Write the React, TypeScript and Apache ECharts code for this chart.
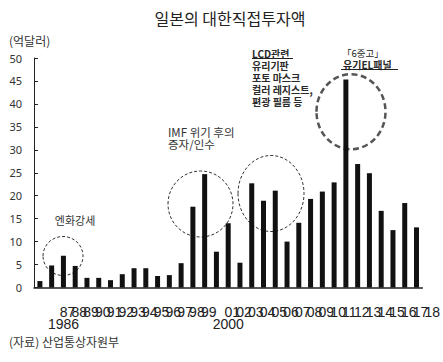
import React, { useEffect, useRef } from "react";
import * as echarts from "echarts";

const years: string[] = [
  "1986", "1987", "1988", "1989", "1990", "1991", "1992", "1993", "1994", "1995", "1996",
  "1997", "1998", "1999", "2000", "2001", "2002", "2003", "2004", "2005", "2006", "2007",
  "2008", "2009", "2010", "2011", "2012", "2013", "2014", "2015", "2016", "2017", "2018",
];
const investment: number[] = [
  1.4, 4.8, 6.9, 4.7, 2.1, 2.1, 1.6, 2.9, 4.2, 4.2, 2.5,
  2.7, 5.3, 17.6, 24.7, 7.8, 14.0, 5.4, 22.7, 18.9, 21.1, 10.0,
  14.1, 19.3, 20.9, 22.9, 45.3, 26.9, 24.9, 16.7, 12.5, 18.4, 13.1,
];
const fullYearLabels: string[] = ["1986", "2000"];
const yMin = 0;
const yMax = 50;
const yStep = 5;

const titleText = "일본의 대한직접투자액";
const unitText = "(억달러)";
const sourceText = "(자료) 산업통상자원부";
const yenNote = "엔화강세";
const imfNote = ["IMF 위기 후의", "증자/인수"];
const lcdNote = ["LCD관련", "유리기판", "포토 마스크", "컬러 레지스트,", "편광 필름 등"];
const oledNote = ["「6중고」", "유기EL패널"];

const KR = "'Noto Sans CJK KR', 'Noto Sans', sans-serif";

function txt(text: string, x: number, y: number, size: number, opts: any = {}) {
  return {
    type: "text",
    x,
    y,
    silent: true,
    style: {
      text,
      fontSize: size,
      fontFamily: KR,
      fontWeight: opts.weight || "normal",
      fill: opts.color || "#222",
      align: opts.align || "left",
      textAlign: opts.align || "left",
      verticalAlign: "middle",
      textVerticalAlign: "middle",
    },
  };
}

function ring(cx: number, cy: number, rx: number, ry: number, dash: number[], width: number, color: string) {
  return {
    type: "ellipse",
    silent: true,
    shape: { cx, cy, rx, ry },
    style: { fill: "none", stroke: color, lineWidth: width, lineDash: dash },
  };
}

export default function App() {
  const ref = useRef<HTMLDivElement>(null);
  useEffect(() => {
    const chart = echarts.init(ref.current!, null, { renderer: "svg" });
    const graphics: any[] = [
      txt(titleText, 230, 18, 16, { align: "center", color: "#222" }),
      txt(unitText, 9, 40, 12, { color: "#333" }),
      txt(sourceText, 9, 341, 12, { color: "#333" }),
      txt(yenNote, 75, 220, 11, { align: "center", color: "#333" }),
      txt(imfNote[0], 168, 131.5, 11.5, { color: "#333" }),
      txt(imfNote[1], 168, 143.5, 11.5, { color: "#333" }),
      ...lcdNote.map((t, i) =>
        txt(t, 252, [53.3, 65, 77, 89.3, 101.5][i], 10, { weight: "bold", color: "#2a2a2a" })
      ),
      {
        type: "line",
        silent: true,
        shape: { x1: 252, y1: 58.5, x2: 293, y2: 58.5 },
        style: { stroke: "#222", lineWidth: 1.2 },
      },
      txt(oledNote[0], 342, 53.3, 9.5, { color: "#222" }),
      txt(oledNote[1], 343, 64.5, 10, { weight: "bold", color: "#2a2a2a" }),
      {
        type: "line",
        silent: true,
        shape: { x1: 341, y1: 69.5, x2: 398, y2: 69.5 },
        style: { stroke: "#222", lineWidth: 1.2 },
      },
      ring(63, 256, 20, 19.5, [3, 2], 1, "#333"),
      ring(200.5, 204, 32.5, 33, [3, 2], 1, "#333"),
      ring(271, 193.5, 33, 38, [3, 2], 1, "#333"),
      ring(351, 111.7, 34.5, 37.5, [6, 3.5], 2.5, "#555"),
    ];
    chart.setOption({
      animation: false,
      backgroundColor: "#fff",
      grid: { left: 34, right: 16, top: 58, bottom: 74.5 },
      xAxis: {
        type: "category",
        data: years,
        boundaryGap: true,
        axisLine: { lineStyle: { color: "#222", width: 1.5 } },
        axisTick: { show: false },
        axisLabel: {
          interval: 0,
          hideOverlap: false,
          align: "left",
          margin: 18,
          padding: [0, 0, 0, 8],
          fontSize: 14,
          lineHeight: 12,
          fontFamily: "'Liberation Sans Narrow', 'Liberation Sans', sans-serif",
          color: "#222",
          formatter: (v: string) => (fullYearLabels.includes(v) ? "\n" + v : v.slice(2)),
        },
      },
      yAxis: {
        type: "value",
        min: yMin,
        max: yMax,
        interval: yStep,
        splitLine: { show: false },
        axisLine: { show: true, lineStyle: { color: "#222", width: 1 } },
        axisTick: { show: true, inside: true, length: 4, lineStyle: { color: "#222" } },
        axisLabel: { margin: 12, fontSize: 11, color: "#333", fontFamily: "'Noto Sans', sans-serif" },
      },
      series: [
        {
          type: "bar",
          data: investment,
          barWidth: 5,
          itemStyle: { color: "#111" },
        },
      ],
      graphic: graphics,
    });
    return () => chart.dispose();
  }, []);
  return (
    <div
      ref={ref}
      style={{ position: "fixed", left: 0, top: 0, width: 443, height: 362, background: "#fff" }}
    />
  );
}
